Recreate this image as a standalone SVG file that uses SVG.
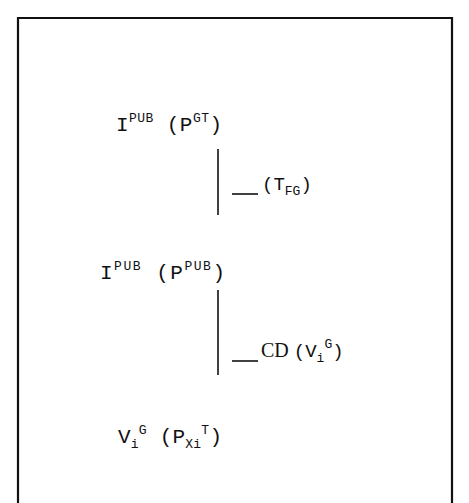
<svg xmlns="http://www.w3.org/2000/svg" width="469" height="503" viewBox="0 0 469 503">
  <style>
    .t { font-family: "Liberation Mono", "DejaVu Sans Mono", monospace; font-size: 21px; fill: #111; }
    .s { font-size: 13px; }
    .lbl { font-size: 19px; }
    .c { font-family: "Liberation Serif", serif; font-size: 20px; fill: #111; }
    .edge { stroke: #111; stroke-width: 1.6; fill: none; }
    .frame { stroke: #111; stroke-width: 2.2; fill: none; }
  </style>
  <rect width="469" height="503" fill="#fff"/>
  <!-- open-bottom frame -->
  <path class="frame" d="M18,503 L18,18 L452,18 L452,503"/>

  <g id="node-ipub-pgt">
    <text class="t" x="116" y="131" textLength="106" lengthAdjust="spacing">I<tspan class="s" dy="-9">PUB</tspan><tspan dy="9"> (P</tspan><tspan class="s" dy="-9">GT</tspan><tspan dy="9">)</tspan></text>
  </g>
  <g id="node-ipub-ppub">
    <text class="t" x="100" y="279" textLength="125" lengthAdjust="spacing">I<tspan class="s" dy="-9">PUB</tspan><tspan dy="9"> (P</tspan><tspan class="s" dy="-9">PUB</tspan><tspan dy="9">)</tspan></text>
  </g>
  <g id="node-vig-pxit">
    <text class="t" x="118" y="443" textLength="104" lengthAdjust="spacing">V<tspan class="s" dy="5">i</tspan><tspan class="s" dy="-14">G</tspan><tspan dy="9"> (P</tspan><tspan class="s" dy="5">Xi</tspan><tspan class="s" dy="-14">T</tspan><tspan dy="9">)</tspan></text>
  </g>

  <g id="connectors">
    <line class="edge" x1="218" y1="149" x2="218" y2="215"/>
    <line class="edge" x1="232" y1="194" x2="258" y2="194"/>
    <line class="edge" x1="218" y1="290" x2="218" y2="375"/>
    <line class="edge" x1="232" y1="361" x2="258" y2="361"/>
  </g>

  <g id="label-tfg">
    <text class="t lbl" x="262" y="190">(T<tspan class="s" dy="5">FG</tspan><tspan dy="-5">)</tspan></text>
  </g>
  <g id="label-cd">
    <text class="c" x="261" y="357">CD <tspan class="t lbl">(V</tspan><tspan class="t s" dy="5">i</tspan><tspan class="t s" dy="-14">G</tspan><tspan class="t lbl" dy="9">)</tspan></text>
  </g>
</svg>
